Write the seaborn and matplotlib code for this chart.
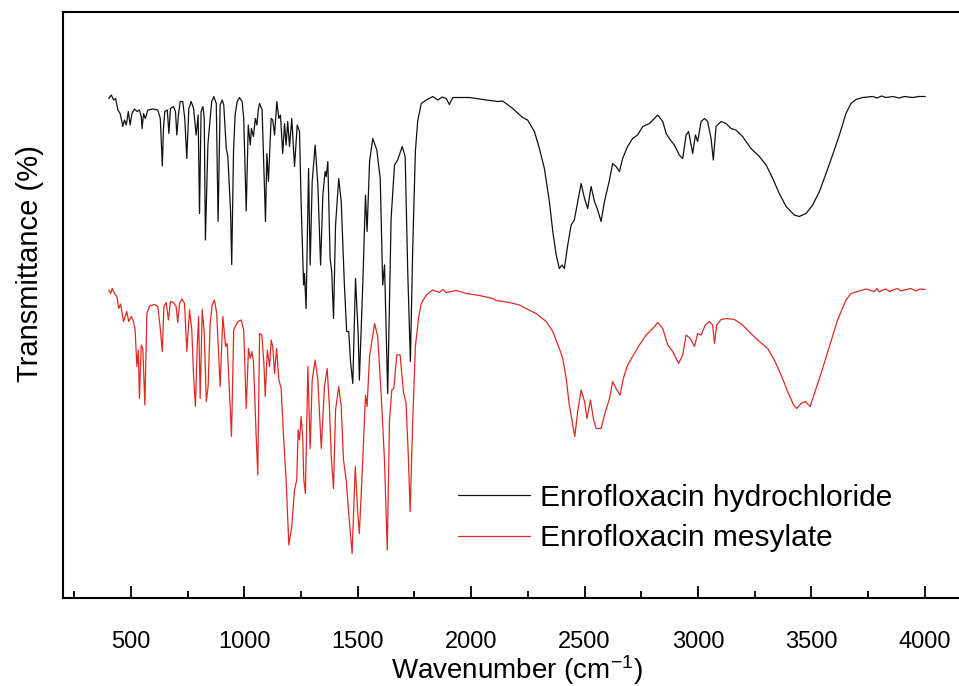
import numpy as np
import pandas as pd
import matplotlib
matplotlib.use("Agg")
import matplotlib.pyplot as plt
from matplotlib.ticker import MultipleLocator
import seaborn as sns

# FTIR spectra (wavenumber in cm-1, transmittance in arbitrary %)
labels = ["Enrofloxacin hydrochloride", "Enrofloxacin mesylate"]

hcl_wavenumber = [402, 413, 423, 432, 442, 452, 464, 471, 479, 488, 496, 504, 515, 527, 537, 545, 549, 555, 563, 574,
                  596, 618, 629, 633, 638, 643, 649, 660, 667, 674, 687, 696, 702, 709, 717, 728, 737, 746, 755, 765,
                  776, 787, 796, 802, 809, 817, 823, 828, 839, 849, 856, 865, 876, 884, 893, 902, 909, 920, 927, 939,
                  944, 952, 959, 968, 978, 990, 997, 1008, 1017, 1026, 1031, 1040, 1048, 1055, 1061, 1067, 1078, 1093,
                  1099, 1106, 1118, 1125, 1133, 1143, 1152, 1159, 1169, 1177, 1184, 1191, 1199, 1209, 1221, 1233, 1243,
                  1250, 1261, 1265, 1272, 1283, 1290, 1299, 1312, 1324, 1336, 1346, 1356, 1361, 1368, 1378, 1385, 1393,
                  1402, 1416, 1427, 1441, 1451, 1460, 1468, 1478, 1490, 1502, 1507, 1522, 1534, 1541, 1552, 1566, 1584,
                  1599, 1610, 1618, 1632, 1647, 1662, 1676, 1696, 1709, 1720, 1732, 1742, 1754, 1764, 1780, 1802, 1831,
                  1853, 1872, 1890, 1904, 1919, 1992, 2066, 2117, 2139, 2183, 2227, 2249, 2279, 2301, 2323, 2345, 2360,
                  2375, 2389, 2401, 2411, 2426, 2441, 2455, 2470, 2485, 2500, 2514, 2529, 2544, 2558, 2573, 2588, 2610,
                  2624, 2639, 2654, 2668, 2690, 2712, 2734, 2757, 2786, 2823, 2845, 2860, 2874, 2896, 2918, 2933, 2948,
                  2959, 2977, 2989, 2999, 3014, 3029, 3043, 3058, 3068, 3080, 3102, 3124, 3146, 3168, 3197, 3234, 3271,
                  3301, 3330, 3359, 3389, 3425, 3447, 3477, 3506, 3536, 3565, 3594, 3624, 3653, 3675, 3697, 3727, 3771,
                  3790, 3810, 3830, 3860, 3888, 3910, 3947, 3975, 4003]
hcl_transmittance = [99.9, 100.6, 99.6, 99.9, 97.6, 96.9, 94.3, 95.6, 94.6, 97.3, 94.6, 96.9, 97.8, 97.3, 97.6, 96.3,
                     93.9, 96.9, 95.9, 97.6, 97.8, 97.6, 95.9, 91.9, 86.4, 93.9, 97.3, 97.6, 92.9, 97.9, 98.3, 97.3,
                     92.6, 96.6, 99.3, 99.3, 95.9, 87.9, 97.9, 99.3, 97.9, 92.6, 96.6, 76.9, 97.3, 98.3, 95.9, 71.6,
                     90.6, 95.9, 99.3, 100.3, 98.9, 75.3, 98.6, 99.6, 98.6, 89.9, 88.3, 77.3, 66.7, 89.3, 96.6, 99.3,
                     100.1, 99.3, 95.9, 77.4, 94.6, 90.6, 93.9, 92.3, 95.9, 94.6, 97.6, 98.9, 97.6, 75.3, 88.9, 83.3,
                     95.9, 95.6, 92.6, 99.3, 95.9, 96.6, 88.9, 94.9, 90.6, 95.3, 90.3, 95.9, 86.3, 94.6, 93.3, 79.3,
                     62.6, 64.9, 57.9, 85.9, 66.6, 83.3, 90.6, 82.6, 66.6, 80.6, 85.3, 84.3, 87.3, 67.9, 65.3, 55.9,
                     74.6, 83.9, 79.3, 62.6, 53.3, 53.3, 47.3, 42.9, 63.9, 52.6, 43.6, 62.6, 80.6, 73.3, 87.3, 91.9,
                     89.6, 83.9, 62.6, 66.6, 40.9, 75.9, 86.6, 87.6, 90.3, 88.3, 65.9, 47.3, 69.3, 89.3, 95.3, 98.9,
                     99.6, 100.3, 99.6, 100.2, 99.9, 98.7, 100.1, 100.1, 99.6, 99.3, 99.4, 97.9, 96.1, 95.6, 93.3, 89.9,
                     85.9, 79.3, 73.3, 68.6, 65.9, 66.6, 65.9, 70.6, 74.6, 75.6, 79.3, 82.9, 79.9, 77.9, 82.3, 79.3,
                     77.6, 75.3, 79.3, 83.6, 86.9, 86.3, 85.3, 87.9, 90.3, 91.9, 92.6, 94.3, 94.9, 96.6, 95.3, 92.9,
                     91.9, 90.6, 88.6, 87.9, 92.6, 93.3, 88.9, 92.6, 91.3, 95.3, 95.9, 95.3, 91.9, 87.6, 94.3, 95.3,
                     94.9, 93.9, 93.6, 92.3, 89.9, 88.3, 86.6, 83.9, 80.9, 78.3, 76.6, 76.3, 76.9, 78.6, 81.3, 84.9,
                     88.6, 92.6, 96.9, 98.9, 99.7, 100.1, 100.3, 100.0, 100.4, 100.1, 100.3, 100.0, 100.3, 100.1, 100.3,
                     100.3]

mes_wavenumber = [402, 410, 417, 427, 437, 446, 454, 461, 467, 476, 481, 490, 501, 511, 518, 526, 532, 537, 545, 552,
                  561, 570, 582, 604, 618, 629, 638, 645, 655, 665, 674, 687, 699, 706, 714, 724, 736, 746, 758, 768,
                  776, 784, 792, 798, 805, 814, 823, 832, 840, 849, 858, 868, 878, 893, 905, 917, 924, 931, 943, 953,
                  971, 986, 997, 1008, 1018, 1026, 1033, 1040, 1052, 1059, 1067, 1077, 1086, 1092, 1101, 1111, 1118,
                  1125, 1133, 1142, 1152, 1162, 1172, 1184, 1196, 1209, 1221, 1231, 1237, 1243, 1250, 1257, 1262, 1269,
                  1280, 1290, 1299, 1312, 1324, 1339, 1353, 1365, 1375, 1383, 1393, 1402, 1416, 1427, 1437, 1449, 1460,
                  1475, 1489, 1500, 1507, 1522, 1534, 1541, 1552, 1574, 1588, 1603, 1618, 1630, 1640, 1650, 1659, 1672,
                  1687, 1701, 1713, 1723, 1731, 1742, 1754, 1769, 1780, 1802, 1831, 1860, 1875, 1890, 1934, 1978, 2037,
                  2095, 2110, 2169, 2213, 2242, 2287, 2331, 2360, 2389, 2404, 2419, 2433, 2448, 2457, 2470, 2485, 2500,
                  2511, 2526, 2539, 2551, 2573, 2588, 2610, 2624, 2639, 2657, 2671, 2690, 2712, 2742, 2772, 2801, 2823,
                  2845, 2867, 2889, 2915, 2933, 2948, 2966, 2985, 2999, 3014, 3033, 3051, 3065, 3073, 3083, 3102, 3124,
                  3161, 3197, 3234, 3271, 3308, 3337, 3367, 3396, 3422, 3436, 3455, 3474, 3495, 3514, 3543, 3580, 3616,
                  3653, 3675, 3704, 3742, 3778, 3790, 3800, 3815, 3830, 3845, 3859, 3880, 3895, 3918, 3940, 3960, 3980,
                  4003]
mes_transmittance = [61.6, 60.9, 61.9, 60.9, 60.3, 57.9, 58.8, 56.9, 55.3, 56.6, 57.3, 55.3, 56.3, 55.3, 53.6, 46.3,
                     49.6, 39.9, 50.6, 49.9, 38.6, 56.9, 58.4, 58.7, 58.3, 53.9, 49.3, 58.3, 59.1, 55.6, 59.3, 59.1,
                     58.3, 55.1, 58.9, 59.8, 58.9, 49.3, 57.6, 53.6, 44.3, 38.3, 50.3, 56.3, 39.9, 57.7, 52.9, 39.3,
                     42.3, 54.9, 58.6, 59.6, 56.9, 42.3, 56.3, 50.3, 50.9, 44.3, 32.3, 53.6, 55.3, 55.6, 53.6, 37.9,
                     49.9, 47.9, 49.3, 47.3, 32.3, 24.6, 52.9, 52.6, 46.9, 40.3, 49.6, 46.3, 51.6, 50.3, 44.9, 49.9,
                     43.6, 41.9, 32.9, 23.6, 10.6, 14.3, 21.6, 23.6, 33.6, 31.6, 36.3, 32.3, 23.6, 20.9, 46.3, 29.9,
                     43.6, 47.6, 43.6, 29.9, 42.3, 45.9, 38.3, 28.3, 21.9, 37.6, 42.3, 38.3, 27.6, 23.6, 16.9, 8.9,
                     26.3, 16.9, 12.9, 27.6, 40.6, 38.3, 48.3, 54.9, 52.3, 40.9, 27.3, 9.6, 35.6, 41.6, 41.9, 48.6,
                     48.6, 41.3, 38.9, 28.3, 17.3, 34.9, 50.3, 56.3, 58.9, 60.6, 61.6, 61.1, 61.7, 61.1, 61.5, 60.9,
                     60.5, 59.9, 59.5, 59.1, 58.6, 57.9, 56.9, 55.3, 53.3, 49.9, 47.9, 43.9, 38.6, 34.6, 32.3, 37.3,
                     41.6, 39.3, 35.9, 39.6, 35.9, 33.9, 33.9, 36.6, 39.9, 43.3, 41.9, 40.6, 43.9, 46.6, 48.3, 50.6,
                     52.6, 53.9, 55.1, 53.9, 50.6, 49.3, 46.9, 48.6, 52.6, 51.9, 50.3, 52.9, 52.6, 54.6, 55.3, 54.6,
                     50.9, 54.6, 55.7, 55.9, 55.7, 54.6, 52.9, 51.3, 49.9, 47.6, 44.6, 41.3, 38.6, 37.9, 38.9, 39.3,
                     38.3, 40.9, 44.9, 50.3, 55.6, 59.6, 60.9, 61.3, 61.8, 61.3, 61.9, 61.2, 61.6, 61.8, 61.3, 61.6,
                     61.9, 61.4, 61.7, 61.9, 61.4, 61.8, 61.7]

line_colors = {labels[0]: "#111111", labels[1]: "#dd2a24"}

df = pd.concat([
    pd.DataFrame({"wavenumber": hcl_wavenumber, "transmittance": hcl_transmittance, "sample": labels[0]}),
    pd.DataFrame({"wavenumber": mes_wavenumber, "transmittance": mes_transmittance, "sample": labels[1]}),
])

sns.set_style("white")
plt.rcParams["font.family"] = ["Liberation Sans", "DejaVu Sans"]
plt.rcParams["mathtext.default"] = "regular"
plt.rcParams["text.color"] = "black"
plt.rcParams["axes.labelcolor"] = "black"
plt.rcParams["xtick.color"] = "black"
plt.rcParams["xtick.labelcolor"] = "black"

fig = plt.figure(figsize=(9.59, 6.86), dpi=100)
ax = fig.add_axes([63 / 959, 88 / 686, 907 / 959, 586 / 686])

sns.lineplot(data=df, x="wavenumber", y="transmittance", hue="sample", palette=line_colors,
             estimator=None, sort=False, linewidth=0.9, ax=ax)

ax.set_xlim(200, 4200)
ax.set_ylim(0, 117.2)
ax.set_yticks([])
ax.xaxis.set_major_locator(MultipleLocator(500))
ax.xaxis.set_minor_locator(MultipleLocator(250))
ax.tick_params(axis="x", which="major", direction="in", length=9, width=1.3, pad=24, labelsize=17,
               bottom=True, colors="black")
ax.tick_params(axis="x", which="minor", direction="in", length=5, width=1.3, bottom=True, colors="black")
for s in ax.spines.values():
    s.set_linewidth(1.5)
    s.set_color("black")

ax.set_xlabel("Wavenumber (cm$^{-1}$)", fontsize=20, labelpad=0, color="black")
ax.set_ylabel("Transmittance (%)", fontsize=21, color="black")
ax.yaxis.set_label_coords(-0.021, 0.57)

leg = ax.legend(loc="upper left", bbox_to_anchor=(0.436, 0.195), frameon=False, fontsize=21.5,
                handlelength=2.4, handletextpad=0.33, labelspacing=0.42, borderaxespad=0, borderpad=0)
for t in leg.get_texts():
    t.set_color("black")

fig.savefig("out.png", dpi=100)
